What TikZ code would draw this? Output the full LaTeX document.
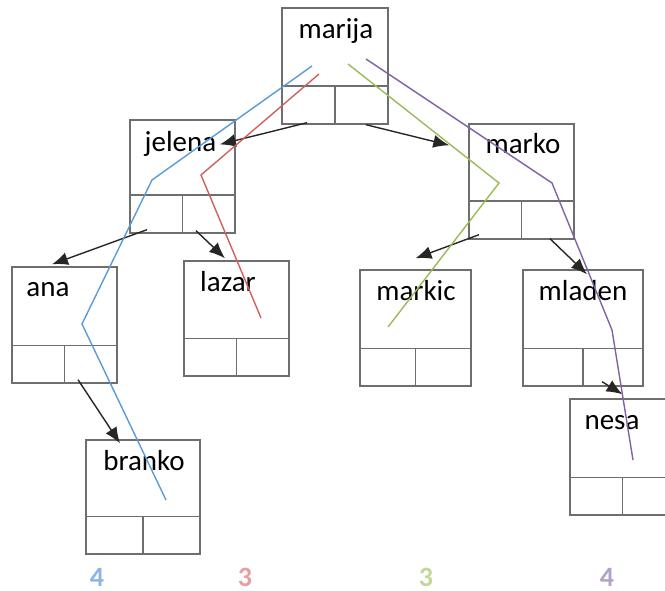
\documentclass[tikz,border=0pt]{standalone}
\usepackage{fontspec}
\setmainfont{Carlito}
\usetikzlibrary{arrows.meta}
\definecolor{boxgray}{HTML}{6E6E6E}
\definecolor{pblue}{HTML}{5B9BD5}
\definecolor{pred}{HTML}{D0605E}
\definecolor{pgreen}{HTML}{9BBB59}
\definecolor{ppurple}{HTML}{8064A2}
\definecolor{nblue}{HTML}{8EB4E3}
\definecolor{nred}{HTML}{E6A09F}
\definecolor{ngreen}{HTML}{C3D69B}
\definecolor{npurple}{HTML}{B3A2C7}
\tikzset{
  rec/.style={draw=boxgray,line width=1.4pt,inner sep=0pt},
  cell/.style={draw=boxgray,line width=1.4pt},
  lbl/.style={anchor=base,font=\fontsize{29}{34}\selectfont},
  arr/.style={-{Latex[length=16pt,width=13pt]},line width=1.4pt,black!85},
  walk/.style={line width=1.4pt},
  cnt/.style={anchor=base,text depth=0pt,inner sep=0pt,font=\fontsize{28}{30}\selectfont\bfseries}
}
\begin{document}
\begin{tikzpicture}[x=1pt,y=-1pt]
\useasboundingbox (0,0) rectangle (665,591);
\foreach \n/\x/\y/\w/\h/\tx/\ty in {marija/335/66/106/116/336/39,
    jelena/182.5/176.5/105/113/180.5/152, marko/521.5/181.5/105/115/523/154,
    ana/64.5/325/105/116/48/297, lazar/236.5/318.5/105/115/228/291,
    branko/143/497/114/114/144/470, markic/415.5/328/111/116/416/301,
    mladen/583/328/120/116/583/301, nesa/622.5/457/105/116/612/429}{
  \node[rec,minimum width=\w,minimum height=\h] (\n) at (\x,\y) {};
  \draw[cell] ([yshift=38.5]\n.south west) -- ([yshift=38.5]\n.south east);
  \draw[cell] (\n.south) -- ([yshift=38.5]\n.south);
  \node[lbl] (\n-t) at (\tx,\ty) {\n};
}
\draw[arr] ([xshift=-28,yshift=2]marija.south) -- (jelena-t.east);
\draw[arr] ([xshift=31]marija.south) -- ([xshift=-19,yshift=-22]marko.north west);
\draw[arr] ([xshift=-35.5,yshift=4]jelena.south) -- ([xshift=-12.5,yshift=2]ana.north);
\draw[arr] ([xshift=13.5,yshift=3]jelena.south) -- ([xshift=-11.5,yshift=2]lazar.north);
\draw[arr] ([xshift=13.5,yshift=4]ana.south) -- ([xshift=-23,yshift=-4]branko.north);
\draw[arr] ([xshift=-42.5,yshift=5]marko.south) -- ([yshift=11]markic.north);
\draw[arr] ([xshift=28.5,yshift=1]marko.south) -- ([xshift=4,yshift=-5]mladen.north);
\draw[arr] ([xshift=19,yshift=5]mladen.south) -- ([yshift=4]nesa.north);
\draw[walk,pblue] (312,66) -- (152,180) -- (82,324) -- (166,500);
\draw[walk,pred] (319,74) -- (201,175) -- (261,318);
\draw[walk,pgreen] (348,64) -- (499,183) -- (388,327);
\draw[walk,ppurple] (366,59) -- (552,183) -- (612,330) -- (633,460);
\node[cnt,nblue] (c-blue) at (97,586) {4};
\node[cnt,nred] (c-red) at (245,586) {3};
\node[cnt,ngreen] (c-green) at (426,586) {3};
\node[cnt,npurple] (c-purple) at (607,586) {4};
\end{tikzpicture}
\end{document}
